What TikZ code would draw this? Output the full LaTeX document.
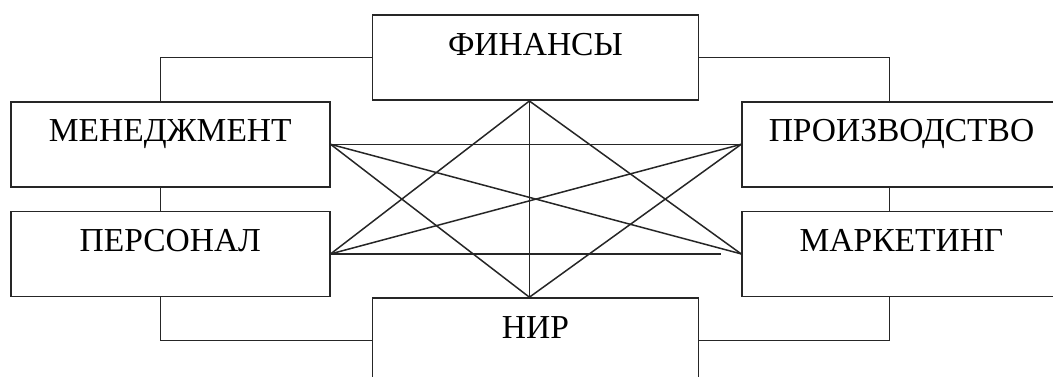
\documentclass[tikz,border=0pt]{standalone}
\usepackage{fontspec}
\setmainfont{Liberation Serif}
\usetikzlibrary{positioning}

\tikzstyle{dept} = [rectangle, minimum width=319pt, inner ysep=0pt, text height=40pt, text depth=45pt, draw=black!85, line width=1.6pt, font=\fontsize{33.5}{33.5}\selectfont]
\tikzstyle{deptwide} = [dept, minimum width=326pt]
\tikzstyle{link} = [draw=black!85, line width=1.5pt]

\begin{document}
\begin{tikzpicture}
        \useasboundingbox (0,0) rectangle (1053pt,-376pt);

        \node (mgmt) [dept, anchor=north west] at (10pt,-101pt) {МЕНЕДЖМЕНТ};
        \node (pers) [dept, below=23pt of mgmt] {ПЕРСОНАЛ};
        \node (fin)  [deptwide, right=41pt of mgmt.north east, anchor=south west] {ФИНАНСЫ};
        \node (nir)  [deptwide, right=41pt of pers.south east, anchor=north west] {НИР};
        \node (prod) [dept, right=42pt of fin.south east, anchor=north west] {ПРОИЗВОДСТВО};
        \node (mark) [dept, below=23pt of prod] {МАРКЕТИНГ};

        \coordinate (finb) at ([xshift=-6pt]fin.south);
        \coordinate (nirt) at ([xshift=-6pt]nir.north);

        % outer frame links
        \draw [link] (fin.west) -| ([xshift=-10pt]mgmt.north);
        \draw [link] (fin.east) -| ([xshift=-12pt]prod.north);
        \draw [link] ([xshift=-10pt]mgmt.south) -- ([xshift=-10pt]pers.north);
        \draw [link] ([xshift=-12pt]prod.south) -- ([xshift=-12pt]mark.north);
        \draw [link] ([xshift=-10pt]pers.south) |- (nir.west);
        \draw [link] ([xshift=-12pt]mark.south) |- (nir.east);

        % links across the middle
        \draw [link] (mgmt.east) -- (prod.west);
        \draw [link] (mgmt.east) -- (mark.west);
        \draw [link] (mgmt.east) -- (nirt);
        \draw [link] (pers.east) -- (finb);
        \draw [link] (pers.east) -- (prod.west);
        \draw [link] (pers.east) -- ([xshift=-20pt]mark.west);
        \draw [link] (finb) -- (mark.west);
        \draw [link] (finb) -- (nirt);
        \draw [link] (prod.west) -- (nirt);
    \end{tikzpicture}
\end{document}
